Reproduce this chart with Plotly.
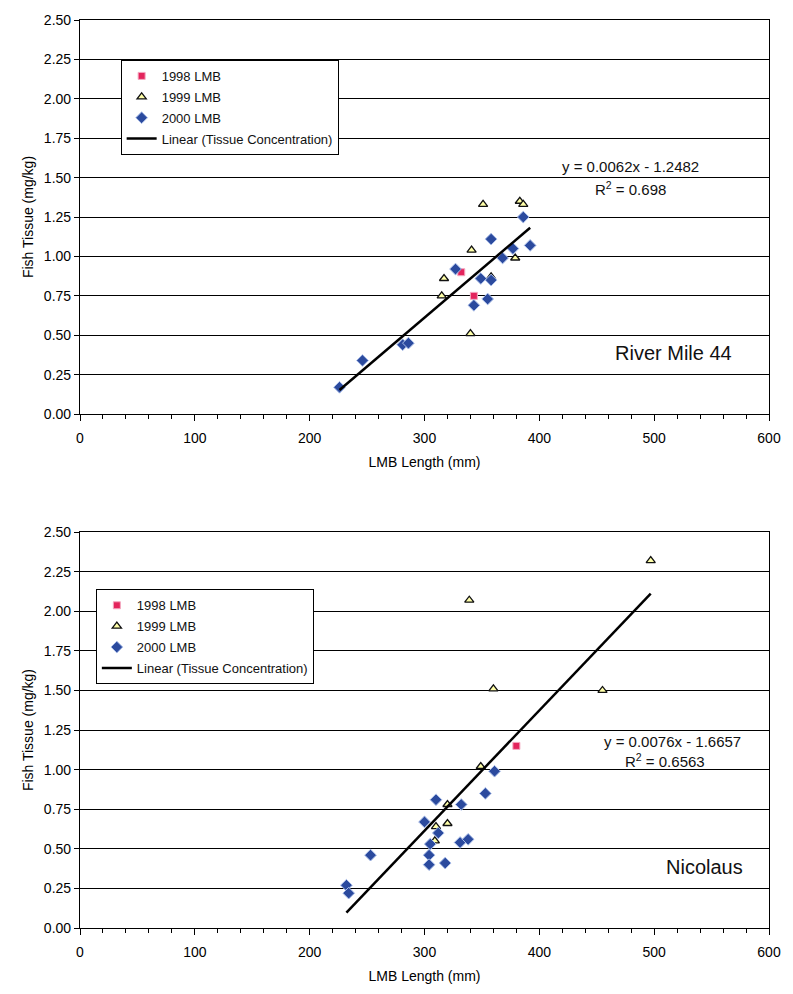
import plotly.graph_objects as go
from plotly.subplots import make_subplots

# ---- River Mile 44 ----
rm_1998_len = [332, 343]
rm_1998_hg = [0.90, 0.75]
rm_1999_len = [315, 317, 341, 351, 358, 340, 379, 383, 386]
rm_1999_hg = [0.75, 0.86, 1.04, 1.33, 0.87, 0.51, 0.99, 1.35, 1.33]
rm_2000_len = [226, 246, 281, 286, 327, 358, 349, 358, 343, 355, 368, 377, 386, 392]
rm_2000_hg = [0.17, 0.34, 0.44, 0.45, 0.92, 1.11, 0.86, 0.85, 0.69, 0.73, 0.99, 1.05, 1.25, 1.07]
rm_slope, rm_intercept, rm_r2 = 0.0062, -1.2482, 0.698

# ---- Nicolaus ----
ni_1998_len = [380]
ni_1998_hg = [1.15]
ni_1999_len = [497, 339, 360, 455, 349, 320, 310, 320, 309]
ni_1999_hg = [2.32, 2.07, 1.51, 1.50, 1.02, 0.78, 0.64, 0.66, 0.55]
ni_2000_len = [361, 353, 310, 332, 300, 312, 305, 304, 304, 318, 253, 331, 338, 232, 234]
ni_2000_hg = [0.99, 0.85, 0.81, 0.78, 0.67, 0.60, 0.53, 0.46, 0.40, 0.41, 0.46, 0.54, 0.56, 0.27, 0.22]
ni_slope, ni_intercept, ni_r2 = 0.0076, -1.6657, 0.6563

x_ticks = [0, 100, 200, 300, 400, 500, 600]
y_ticks = [0.00, 0.25, 0.50, 0.75, 1.00, 1.25, 1.50, 1.75, 2.00, 2.25, 2.50]

FONT = "Liberation Sans, Arial, sans-serif"
RED = "#e3245c"
TRI_FILL = "#ffffa8"
BLUE = "#2b4a9e"

fig = make_subplots(rows=2, cols=1, vertical_spacing=0.13)


def add_site(row, legend, l98, h98, l99, h99, l00, h00, slope, intercept):
    fig.add_trace(go.Scatter(
        x=l98, y=h98, mode="markers", name="1998 LMB", legend=legend,
        legendgroup=f"{legend}a",
        marker=dict(symbol="square", size=7, color=RED, line=dict(color="#f4a8c0", width=1))),
        row=row, col=1)
    fig.add_trace(go.Scatter(
        x=l99, y=h99, mode="markers", name="1999 LMB", legend=legend,
        legendgroup=f"{legend}b",
        marker=dict(symbol="triangle-up", size=8, color=TRI_FILL, line=dict(color="#111", width=1.3))),
        row=row, col=1)
    fig.add_trace(go.Scatter(
        x=l00, y=h00, mode="markers", name="2000 LMB", legend=legend,
        legendgroup=f"{legend}c",
        marker=dict(symbol="diamond", size=9, color=BLUE, line=dict(color="#a9bde8", width=1))),
        row=row, col=1)
    all_len = l98 + l99 + l00
    x0, x1 = min(all_len), max(all_len)
    fig.add_trace(go.Scatter(
        x=[x0, x1], y=[slope * x0 + intercept, slope * x1 + intercept],
        mode="lines", name="Linear (Tissue Concentration)", legend=legend,
        legendgroup=f"{legend}d",
        line=dict(color="#000", width=2.5)), row=row, col=1)


add_site(1, "legend", rm_1998_len, rm_1998_hg, rm_1999_len, rm_1999_hg,
         rm_2000_len, rm_2000_hg, rm_slope, rm_intercept)
add_site(2, "legend2", ni_1998_len, ni_1998_hg, ni_1999_len, ni_1999_hg,
         ni_2000_len, ni_2000_hg, ni_slope, ni_intercept)

axis_font = dict(family=FONT, size=14, color="#000")
title_font = dict(family=FONT, size=14, color="#000")
for r in (1, 2):
    fig.update_xaxes(
        range=[0, 600], tickvals=x_ticks, ticktext=[str(v) for v in x_ticks],
        ticks="outside", ticklen=6, tickcolor="#000", tickwidth=1,
        minor=dict(dtick=20, ticks="outside", ticklen=4, tickcolor="#000", showgrid=False),
        showline=True, linecolor="#000", linewidth=1.2, mirror=True,
        showgrid=False, zeroline=False, tickfont=axis_font, ticklabelstandoff=5,
        title=dict(text="LMB Length (mm)", font=title_font, standoff=12),
        row=r, col=1)
    fig.update_yaxes(
        range=[0, 2.5], tickvals=y_ticks, ticktext=[f"{v:.2f}" for v in y_ticks],
        ticks="outside", ticklen=5, tickcolor="#000",
        showline=True, linecolor="#000", linewidth=1.2, mirror=True,
        showgrid=True, gridcolor="#000", gridwidth=1, zeroline=False,
        tickfont=axis_font,
        title=dict(text="Fish Tissue (mg/kg)", font=title_font, standoff=6),
        row=r, col=1)

legend_style = dict(xanchor="left", yanchor="top", bgcolor="white",
                    bordercolor="#000", borderwidth=1,
                    font=dict(family=FONT, size=13, color="#111"), tracegroupgap=1)
fig.update_layout(
    width=793, height=994,
    margin=dict(l=80, r=16, t=15, b=66),
    paper_bgcolor="white", plot_bgcolor="white",
    font=dict(family=FONT, color="#111"),
    legend=dict(x=0.059, y=0.956, **legend_style),
    legend2=dict(x=0.023, y=0.373, **legend_style),
)
fig.update_yaxes(domain=[0.566, 1.0], row=1, col=1)
fig.update_yaxes(domain=[0.0, 0.436], row=2, col=1)

notes = [
    ("x", "y", 479, 1.57, f"y = {rm_slope}x - {abs(rm_intercept)}", 15),
    ("x", "y", 479, 1.43, f"R<sup>2</sup> = {rm_r2}", 15),
    ("x", "y", 517, 0.385, "River Mile 44", 20),
    ("x2", "y2", 516, 1.18, f"y = {ni_slope}x - {abs(ni_intercept)}", 15),
    ("x2", "y2", 509, 1.06, f"R<sup>2</sup> = {ni_r2}", 15),
    ("x2", "y2", 544, 0.385, "Nicolaus", 20),
]
for xr, yr, xv, yv, txt, sz in notes:
    fig.add_annotation(x=xv, y=yv, xref=xr, yref=yr, text=txt, showarrow=False,
                       font=dict(family=FONT, size=sz, color="#111"))

fig.write_html("out.html")
